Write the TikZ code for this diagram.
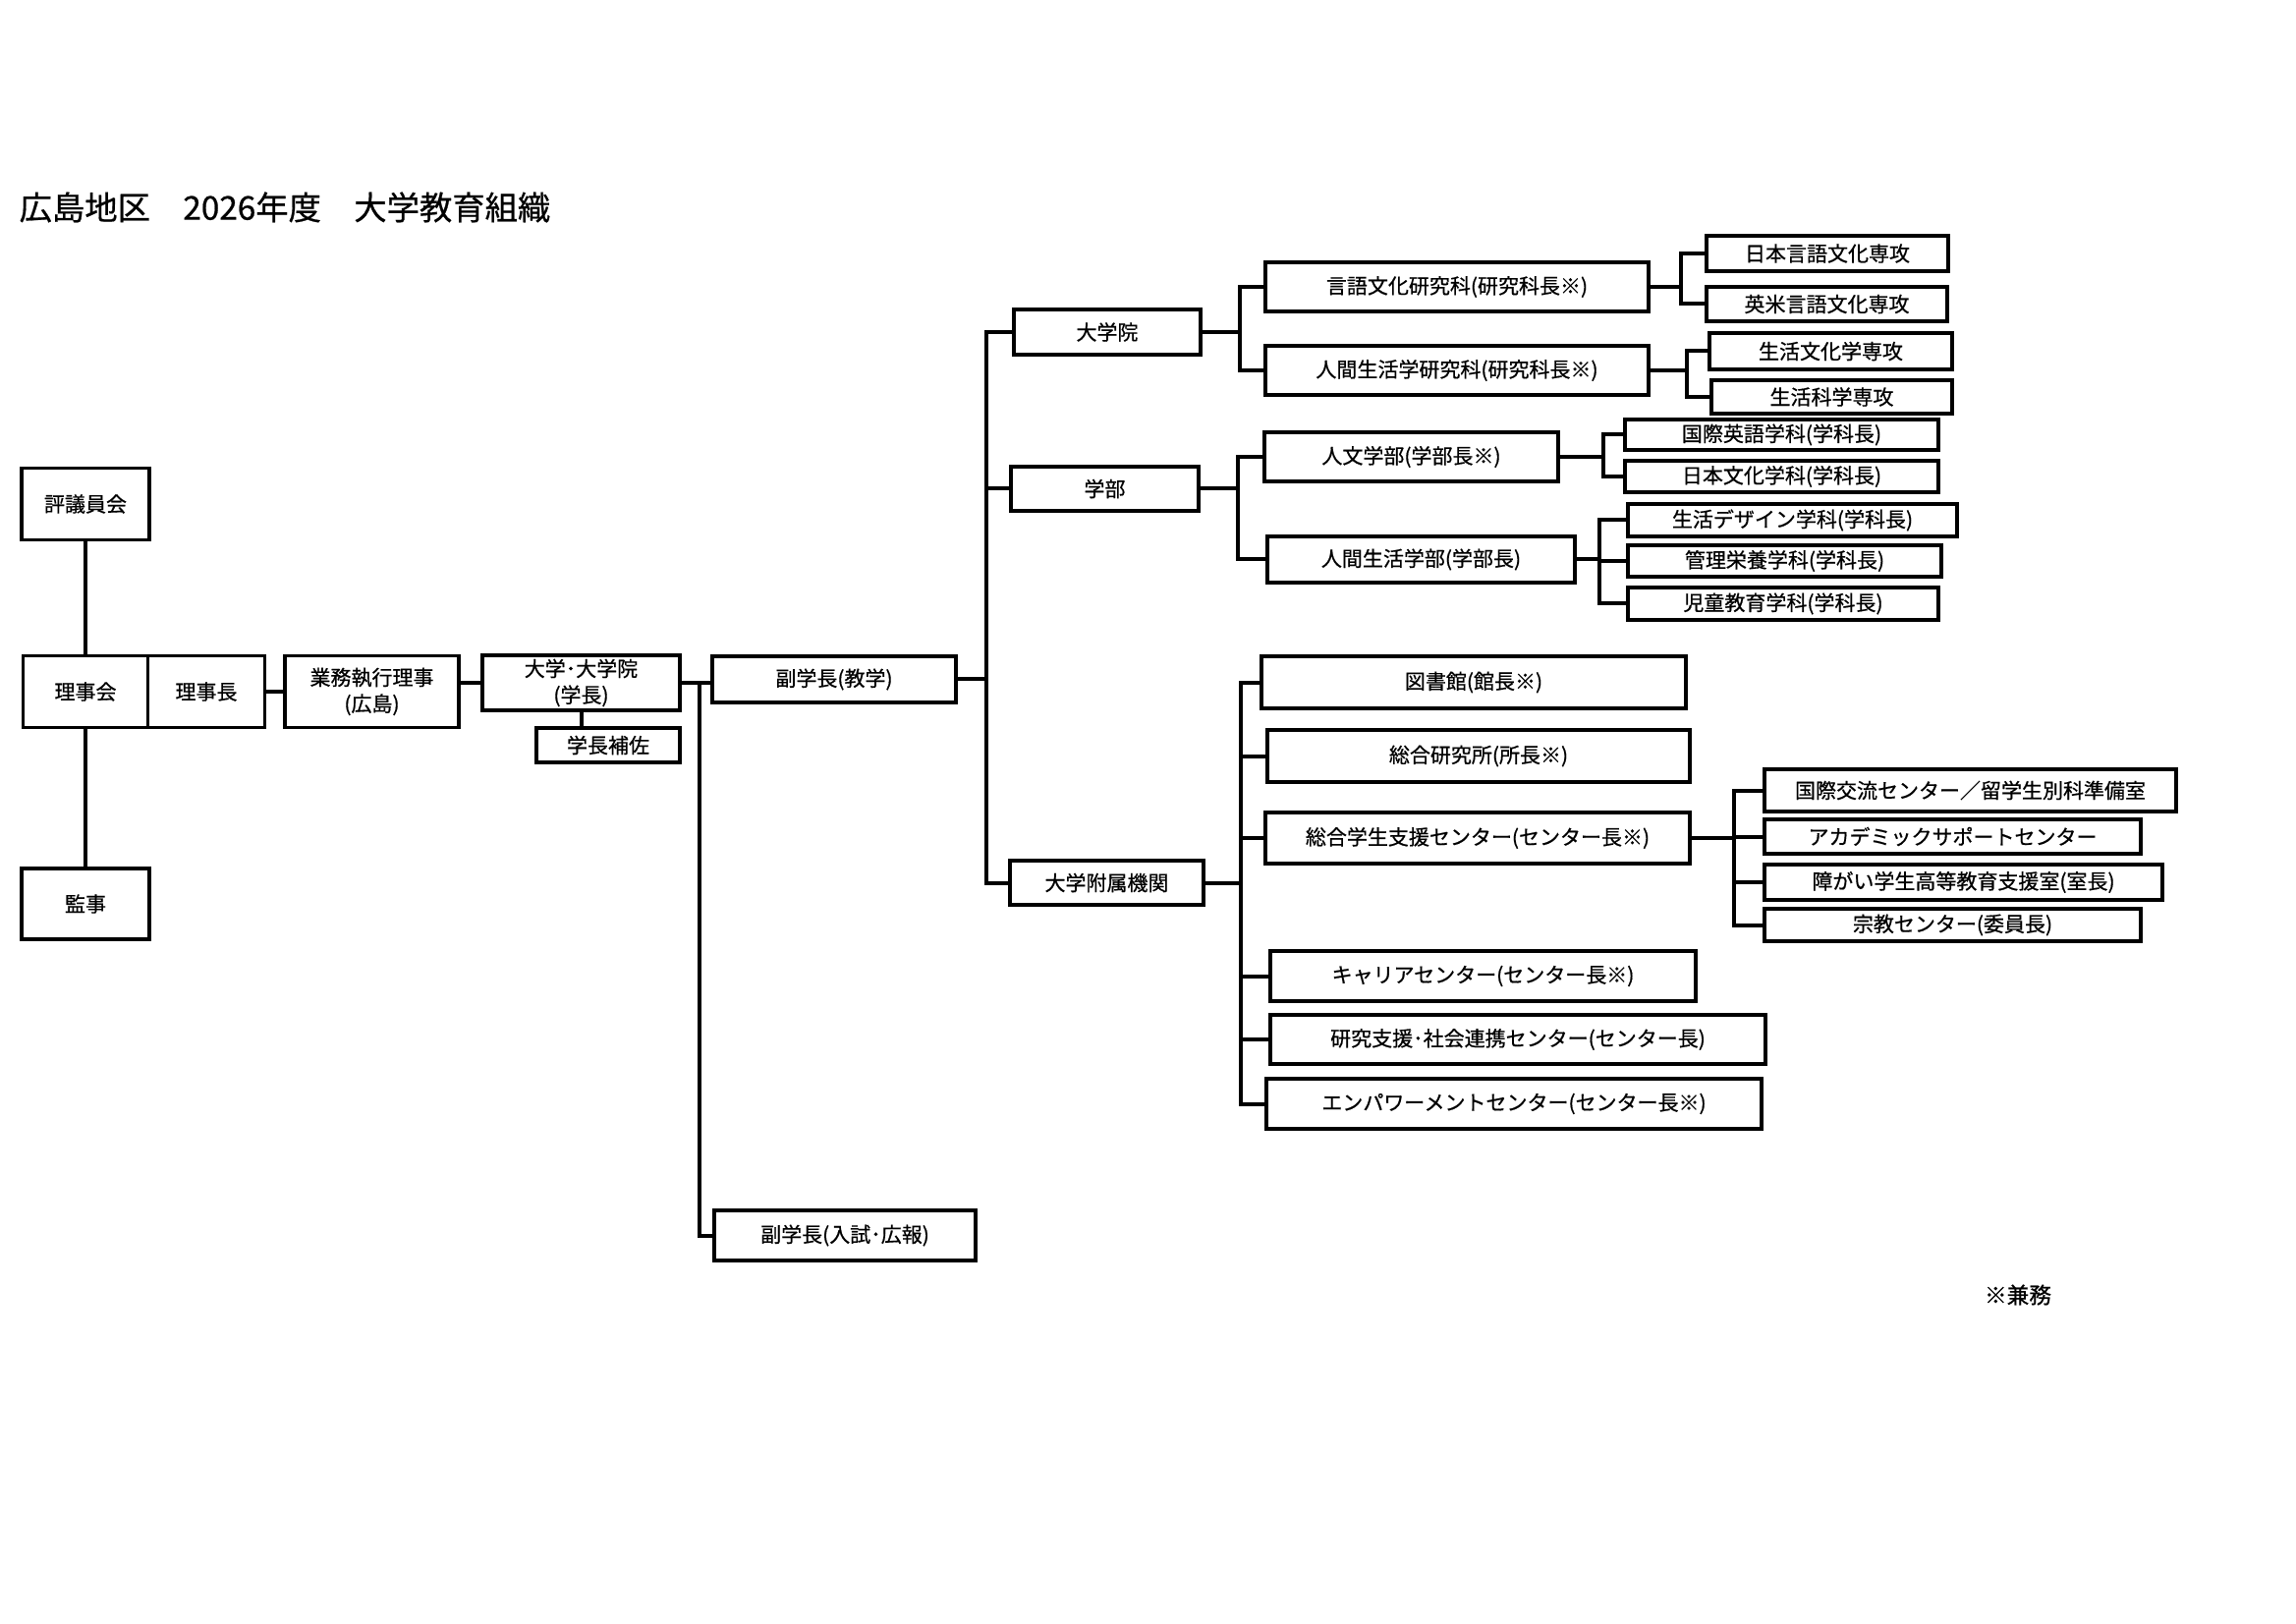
\documentclass[tikz,border=0pt]{standalone}
\usepackage{fontspec}
\setmainfont{Noto Sans CJK JP}[FakeBold=0.6]
\newcommand\boxfont{\fontsize{6.3}{8}\selectfont}
\newcommand\titlefont{\fontsize{10}{12}\selectfont}
\tikzset{
  box/.style={draw, line width=1.1pt, inner sep=0pt, font=\boxfont, align=center},
  sz/.style 2 args={minimum width=#1*0.3pt, minimum height=#2*0.3pt},
  conn/.style={line width=1.2pt},
}
\begin{document}
\begin{tikzpicture}[x=0.3pt, y=-0.3pt]
\fill[white] (0,0) rectangle (2337,1653);
\useasboundingbox (0,0) rectangle (2337,1653);

\node[anchor=west, font=\titlefont, inner sep=0pt] (title) at (19,211) {広島地区　2026年度　大学教育組織};

% left column
\node[box, sz={130}{73}] (hyogi)   at (87,513)   {評議員会};
\node[box, sz={127}{73}] (rijikai) at (87,704)   {理事会};
\node[box, sz={119}{73}] (rijicho) at (210,704)  {理事長};
\node[box, sz={130}{72}] (kanji)   at (87,920)   {監事};
\node[box, sz={177}{73}] (gyomu)   at (378.5,704) {業務執行理事\\(広島)};
\node[box, sz={201}{56}] (gakucho) at (591.5,695) {大学･大学院\\(学長)};
\node[box, sz={146}{35}] (hosa)    at (619,758.5) {学長補佐};
\node[box, sz={248}{47}] (fuku1)   at (849,691.5) {副学長(教学)};
\node[box, sz={266}{51}] (nyushi)  at (860,1257.5) {副学長(入試･広報)};

% second level
\node[box, sz={190}{46}] (daigakuin) at (1127,338)   {大学院};
\node[box, sz={191}{45}] (gakubu)    at (1124.5,497.5) {学部};
\node[box, sz={197}{45}] (fuzoku)    at (1126.5,898.5) {大学附属機関};

% graduate school
\node[box, sz={390}{50}] (gengo)   at (1483,292) {言語文化研究科(研究科長※)};
\node[box, sz={390}{50}] (ningenk) at (1483,377) {人間生活学研究科(研究科長※)};
\node[box, sz={246}{36}] (nihongo) at (1860,258) {日本言語文化専攻};
\node[box, sz={245}{35}] (eibei)   at (1859.5,309.5) {英米言語文化専攻};
\node[box, sz={247}{37}] (sbunka)  at (1863.5,357.5) {生活文化学専攻};
\node[box, sz={245}{34}] (skagaku) at (1864.5,404) {生活科学専攻};

% faculties
\node[box, sz={299}{50}] (jinbun)  at (1436.5,465) {人文学部(学部長※)};
\node[box, sz={313}{47}] (ningenb) at (1446.5,569.5) {人間生活学部(学部長)};
\node[box, sz={319}{31}] (keigo)   at (1813.5,442.5) {国際英語学科(学科長)};
\node[box, sz={319}{32}] (nbunka)  at (1813.5,485) {日本文化学科(学科長)};
\node[box, sz={335}{33}] (design)  at (1824.5,529.5) {生活デザイン学科(学科長)};
\node[box, sz={319}{32}] (kanri)   at (1816.5,571) {管理栄養学科(学科長)};
\node[box, sz={316}{33}] (jido)    at (1815,614.5) {児童教育学科(学科長)};

% affiliated institutions
\node[box, sz={432}{53}] (tosho)   at (1500,694.5) {図書館(館長※)};
\node[box, sz={430}{53}] (soken)   at (1505,769.5) {総合研究所(所長※)};
\node[box, sz={432}{52}] (gakusei) at (1504,853)   {総合学生支援センター(センター長※)};
\node[box, sz={433}{51}] (career)  at (1509.5,993.5) {キャリアセンター(センター長※)};
\node[box, sz={504}{50}] (kenkyu)  at (1545,1058)  {研究支援･社会連携センター(センター長)};
\node[box, sz={504}{51}] (empower) at (1541,1123.5) {エンパワーメントセンター(センター長※)};
\node[box, sz={419}{43}] (kokusai) at (2005.5,804.5) {国際交流センター／留学生別科準備室};
\node[box, sz={383}{35}] (academic) at (1987.5,851.5) {アカデミックサポートセンター};
\node[box, sz={405}{36}] (shogai)  at (1998.5,898) {障がい学生高等教育支援室(室長)};
\node[box, sz={383}{33}] (shukyo)  at (1987.5,941.5) {宗教センター(委員長)};

\node[font=\fontsize{6.8}{8}\selectfont, inner sep=0pt] (note) at (2054,1318) {※兼務};

% junction points
\coordinate (t1) at (712,695);
\coordinate (t2) at (1004,691.5);
\coordinate (b1) at (1262,338);
\coordinate (b2) at (1711,292);
\coordinate (b3) at (1717,377);
\coordinate (b4) at (1260,497.5);
\coordinate (b5) at (1632,465);
\coordinate (b6) at (1628,569.5);
\coordinate (b7) at (1263,898.5);
\coordinate (b8) at (1765,853);

% connectors
\draw[conn] (hyogi.south) -- (hyogi.south |- rijikai.north);
\draw[conn] (rijikai.south) -- (rijikai.south |- kanji.north);
\draw[conn] (rijicho.east) -- (gyomu.west);
\draw[conn] (gyomu.east |- gakucho.west) -- (gakucho.west);
\draw[conn] (gakucho.south) -- (gakucho.south |- hosa.north);
\draw[conn] (gakucho.east) -- (fuku1.west |- gakucho.east);
\draw[conn] (t1) |- (nyushi.west);

\draw[conn] (fuku1.east) -- (t2);
\draw[conn] (daigakuin.west) -| (t2) |- (fuzoku.west);
\draw[conn] (t2 |- gakubu.west) -- (gakubu.west);

\draw[conn] (daigakuin.east) -- (b1);
\draw[conn] (gengo.west) -| (b1) |- (ningenk.west);
\draw[conn] (gengo.east) -- (b2);
\draw[conn] (nihongo.west) -| (b2) |- (eibei.west);
\draw[conn] (ningenk.east) -- (b3);
\draw[conn] (sbunka.west) -| (b3) |- (skagaku.west);

\draw[conn] (gakubu.east) -- (b4);
\draw[conn] (jinbun.west) -| (b4) |- (ningenb.west);
\draw[conn] (jinbun.east) -- (b5);
\draw[conn] (keigo.west) -| (b5) |- (nbunka.west);
\draw[conn] (ningenb.east) -- (b6);
\draw[conn] (design.west) -| (b6) |- (jido.west);
\draw[conn] (b6 |- kanri.west) -- (kanri.west);

\draw[conn] (fuzoku.east) -- (b7);
\draw[conn] (tosho.west) -| (b7) |- (empower.west);
\draw[conn] (b7 |- soken.west) -- (soken.west);
\draw[conn] (b7 |- gakusei.west) -- (gakusei.west);
\draw[conn] (b7 |- career.west) -- (career.west);
\draw[conn] (b7 |- kenkyu.west) -- (kenkyu.west);

\draw[conn] (gakusei.east) -- (b8);
\draw[conn] (kokusai.west) -| (b8) |- (shukyo.west);
\draw[conn] (b8 |- academic.west) -- (academic.west);
\draw[conn] (b8 |- shogai.west) -- (shogai.west);
\end{tikzpicture}
\end{document}
